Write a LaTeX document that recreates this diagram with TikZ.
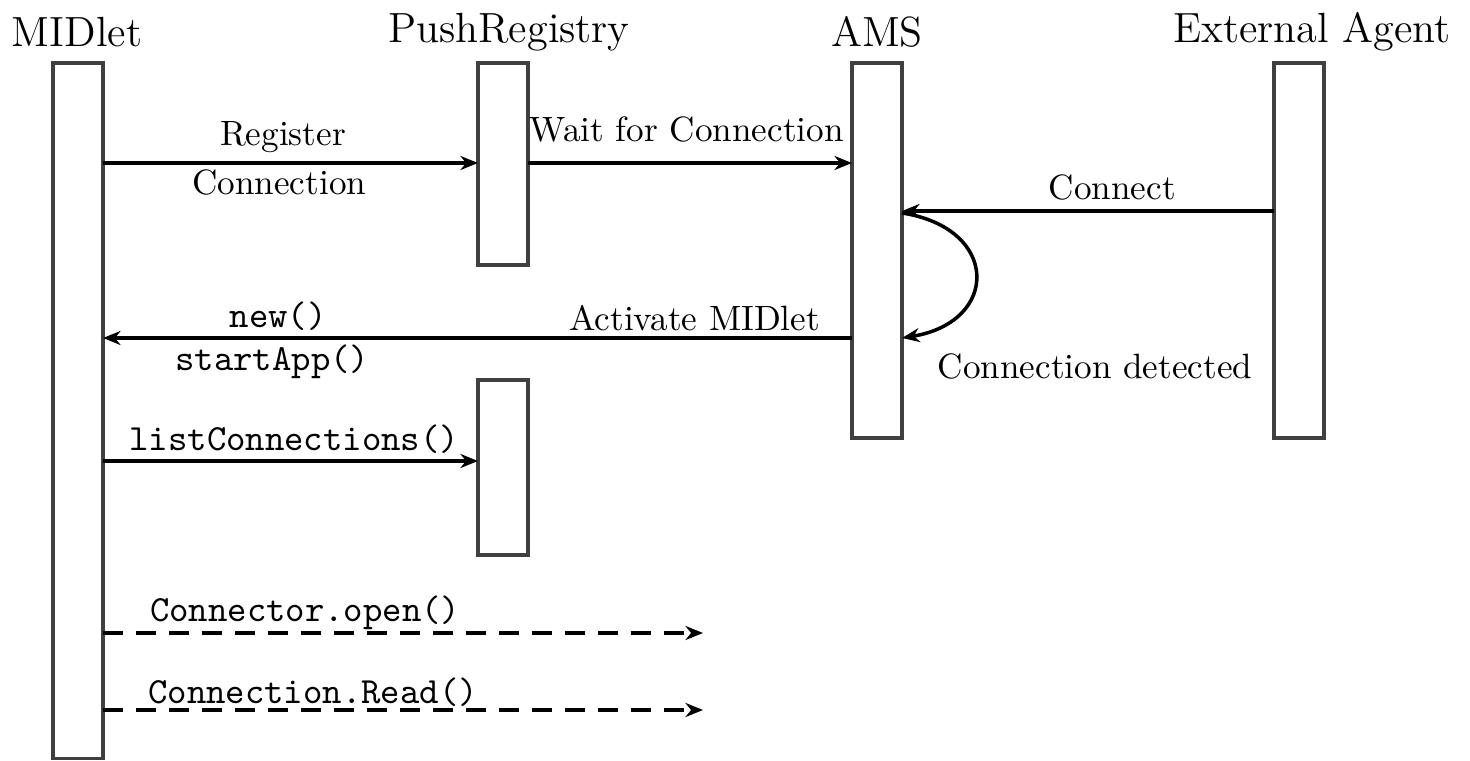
\documentclass[tikz,border=0pt]{standalone}
\usetikzlibrary{arrows.meta, positioning, calc}

\begin{document}
\begin{tikzpicture}[x=0.01cm, y=-0.01cm,
    lifebox/.style={draw=black!75, line width=1pt, fill=white, minimum width=0.5cm, inner sep=0pt, outer sep=0pt},
    head/.style={font=\fontsize{12}{14}\selectfont},
    msg/.style={-{Stealth[length=5pt, width=4pt]}, line width=1pt},
    ret/.style={msg, dash pattern=on 0.2cm off 0.13cm},
    lbl/.style={font=\fontsize{10}{12}\selectfont, inner sep=1.5pt},
    code/.style={font=\ttfamily\fontsize{10.5}{12}\selectfont, inner sep=1.5pt}]

    \useasboundingbox (0,0) rectangle (1470,761);

    % lifeline heads
    \node[head] (tmidlet) at (77,32) {MIDlet};
    \node[head] (tpush) at (509,32) {PushRegistry};
    \node[head] (tams) at (877,32) {AMS};
    \node[head] (tagent) at (1312,32) {External Agent};

    % activation boxes
    \node[lifebox, minimum height=6.95cm, anchor=north] (midlet) at (78,63) {};
    \node[lifebox, minimum height=2.02cm, anchor=north] (push1) at (503,63) {};
    \node[lifebox, minimum height=1.75cm, anchor=north] (push2) at (503,380) {};
    \node[lifebox, minimum height=3.75cm, anchor=north] (ams) at (877,63) {};
    \node[lifebox, minimum height=3.75cm, anchor=north] (agent) at (1299,63) {};

    % messages
    \draw[msg] (midlet.east |- 0,163) -- (push1.west |- 0,163)
        node[lbl, pos=0.48, above=1pt] (lregister) {Register}
        node[lbl, pos=0.47, below] (lconn) {Connection};
    \draw[msg] (push1.east |- 0,163) -- (ams.west |- 0,163)
        node[lbl, pos=0.49, above=4pt] (lwait) {Wait for Connection};
    \draw[msg] (agent.west |- 0,211) -- (ams.east |- 0,211)
        node[lbl, pos=0.435, above=1pt] (lconnect) {Connect};
    \draw[msg] (ams.east |- 0,213) .. controls (1000,228) and (1000,322) .. (ams.east |- 0,338);
    \node[lbl] (ldetect) at (1095,366) {Connection detected};
    \draw[msg] (ams.west |- 0,338) -- (midlet.east |- 0,338)
        node[lbl, pos=0.21, above] (lactivate) {Activate MIDlet}
        node[code, pos=0.766, above] (lnew) {new()}
        node[code, pos=0.774, below] (lstart) {startApp()};
    \draw[msg] (midlet.east |- 0,461) -- (push2.west |- 0,461)
        node[code, pos=0.51, above] (llist) {listConnections()};

    % outgoing calls
    \coordinate (openend) at (703,633);
    \coordinate (readend) at (703,710);
    \draw[ret] (midlet.east |- openend) -- (openend)
        node[code, pos=0.337, above, inner sep=0.5pt] (lopen) {Connector.open()};
    \draw[ret] (midlet.east |- readend) -- (readend)
        node[code, pos=0.35, above, inner sep=0.5pt] (lread) {Connection.Read()};
\end{tikzpicture}
\end{document}
